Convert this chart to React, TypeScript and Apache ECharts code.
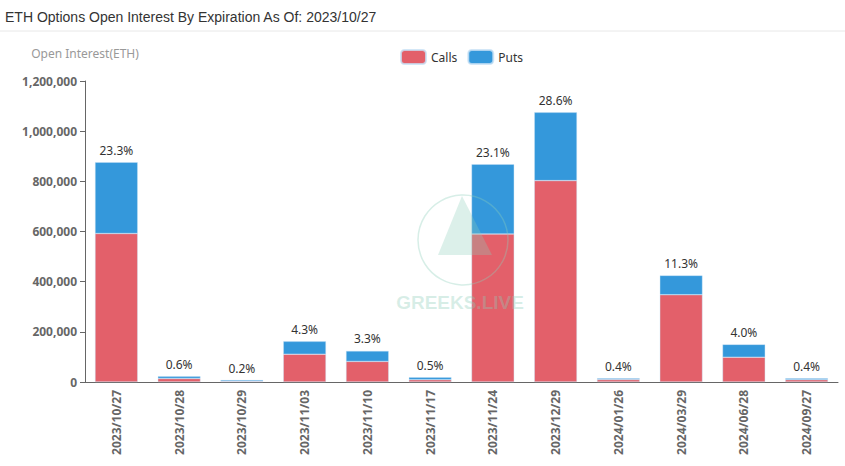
import React, { useEffect, useRef } from "react";
import * as echarts from "echarts";

const categories = [
  "2023/10/27", "2023/10/28", "2023/10/29", "2023/11/03", "2023/11/10", "2023/11/17",
  "2023/11/24", "2023/12/29", "2024/01/26", "2024/03/29", "2024/06/28", "2024/09/27",
];
const callsValues = [592000, 14000, 3000, 111000, 82000, 9000, 590000, 803000, 9500, 348000, 99000, 9000];
const putsValues = [284000, 8500, 4500, 51000, 42000, 9500, 278000, 272000, 5500, 77000, 51000, 6000];
const percentLabels = ["23.3%", "0.6%", "0.2%", "4.3%", "3.3%", "0.5%", "23.1%", "28.6%", "0.4%", "11.3%", "4.0%", "0.4%"];
const yTicks = [0, 200000, 400000, 600000, 800000, 1000000, 1200000];

const FONT = "'Noto Sans', 'Liberation Sans', sans-serif";

export default function App() {
  const ref = useRef<HTMLDivElement>(null);
  useEffect(() => {
    document.body.style.margin = "0";
    if (!ref.current) return;
    const chart = echarts.init(ref.current, undefined, { renderer: "svg" });
    const fmt = (v: number) => v.toLocaleString("en-US");
    chart.setOption({
      animation: false,
      textStyle: { fontFamily: FONT },
      title: {
        text: "ETH Options Open Interest By Expiration As Of: 2023/10/27",
        left: 0,
        top: 5,
        textStyle: { fontSize: 14, fontWeight: "normal", color: "#333", fontFamily: "'Liberation Sans', Arial, sans-serif" },
      },
      legend: {
        data: ["Calls", "Puts"],
        top: 44,
        left: 395,
        itemWidth: 25,
        itemHeight: 14,
        itemGap: 10,
        textStyle: { fontSize: 12, color: "#333" },
      },
      graphic: [
        { type: "line", shape: { x1: 0, y1: 31, x2: 845, y2: 31 }, style: { stroke: "#e8e8e8", lineWidth: 1 }, z: 0 },
        {
          type: "circle",
          shape: { cx: 463, cy: 240, r: 45 },
          style: { fill: "none", stroke: "rgba(140,205,185,0.35)", lineWidth: 1.5 },
          z: 100,
        },
        {
          type: "polygon",
          shape: { points: [[462, 196], [438, 255], [492, 255]] },
          style: { fill: "rgba(140,205,185,0.3)" },
          z: 100,
        },
        {
          type: "text",
          x: 460,
          y: 302,
          style: {
            text: "GREEKS.LIVE",
            fill: "rgba(140,205,185,0.35)",
            font: "bold 19px 'Liberation Sans', Arial, sans-serif",
            align: "center",
            verticalAlign: "middle",
          },
          z: 100,
        },
      ],
      grid: { left: 85, right: 7, top: 81, bottom: 84, containLabel: false },
      xAxis: {
        type: "category",
        data: categories,
        axisLine: { lineStyle: { color: "#666" } },
        axisTick: { lineStyle: { color: "#666" } },
        axisLabel: { rotate: 90, color: "#666", fontWeight: "bold", fontSize: 12, interval: 0, margin: 8 },
      },
      yAxis: {
        type: "value",
        name: "Open Interest(ETH)",
        nameGap: 22,
        nameTextStyle: { color: "#999", fontSize: 12, padding: [0, 0, 0, 0] },
        min: yTicks[0],
        max: yTicks[yTicks.length - 1],
        interval: yTicks[1] - yTicks[0],
        axisLine: { show: true, lineStyle: { color: "#666" } },
        axisTick: { show: true, lineStyle: { color: "#666" } },
        splitLine: { show: false },
        axisLabel: { color: "#666", fontWeight: "bold", fontSize: 12, formatter: (v: number) => fmt(v) },
      },
      series: [
        {
          name: "Calls",
          type: "bar",
          stack: "oi",
          barWidth: "68%",
          data: callsValues,
          itemStyle: { color: "#e3606a", borderColor: "rgba(200,225,245,0.8)", borderWidth: 0.5, borderRadius: [0, 0, 0, 0] },
        },
        {
          name: "Puts",
          type: "bar",
          stack: "oi",
          barWidth: "68%",
          data: putsValues,
          itemStyle: { color: "#3498db", borderColor: "rgba(200,225,245,0.8)", borderWidth: 0.5 },
          label: {
            show: true,
            position: "top",
            color: "#333",
            fontSize: 12,
            distance: 6,
            formatter: (p: any) => percentLabels[p.dataIndex],
          },
        },
      ],
    });
    return () => chart.dispose();
  }, []);
  return <div ref={ref} style={{ width: 845, height: 466 }} />;
}
